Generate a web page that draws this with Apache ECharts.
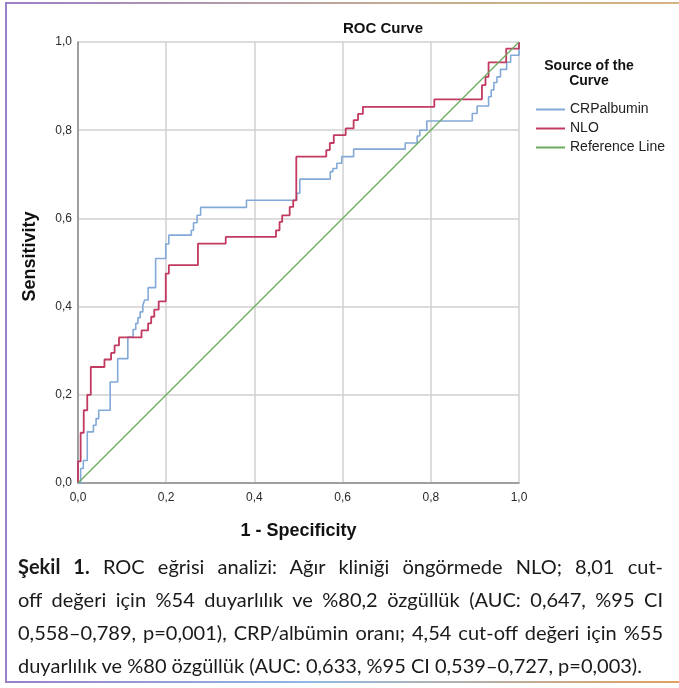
<!DOCTYPE html>
<html>
<head>
<meta charset="utf-8">
<script src="https://cdn.jsdelivr.net/npm/echarts@6/dist/echarts.min.js"></script>
<style>
  html, body { margin: 0; padding: 0; background: #fff; }
  #wrap { position: relative; width: 679px; height: 688px; overflow: hidden; }
  #chart { position: absolute; left: 0; top: 0; width: 679px; height: 545px; }
  .frame-left { position: absolute; left: 5px; top: 2px; width: 2px; height: 681px; background: #9b80c8; }
  .frame-top { position: absolute; left: 5px; top: 2px; width: 674px; height: 2px; background: linear-gradient(to right, #9b80c8, #c4ad92 60%, #d6b47e); }
  .frame-bottom { position: absolute; left: 5px; top: 681px; width: 674px; height: 2px; background: linear-gradient(to right, #9b80c8, #8fb8e2 45%, #e3a25f); }
  #caption { position: absolute; left: 18px; top: 550px; width: 645px; font-family: Lato, sans-serif; font-size: 20px; line-height: 33px; color: #1a1a1a; }
  #caption .ln { white-space: nowrap; text-align: justify; text-align-last: justify; }
  #caption .ln.last { text-align: left; text-align-last: left; }
</style>
</head>
<body>
<div id="wrap">
  <div id="chart"></div>
  <div class="frame-left"></div>
  <div class="frame-top"></div>
  <div class="frame-bottom"></div>
  <div id="caption">
    <div class="ln"><b>Şekil 1.</b> ROC eğrisi analizi: Ağır kliniği öngörmede NLO; 8,01 cut-</div>
    <div class="ln">off değeri için %54 duyarlılık ve %80,2 özgüllük (AUC: 0,647, %95 CI</div>
    <div class="ln">0,558–0,789, p=0,001), CRP/albümin oranı; 4,54 cut-off değeri için %55</div>
    <div class="ln last">duyarlılık ve %80 özgüllük (AUC: 0,633, %95 CI 0,539–0,727, p=0,003).</div>
  </div>
</div>
<script>
// ROC curve vertices [1 - specificity, sensitivity], drawn as steps
const crpAlbumin = [
  [0, 0], [0.006, 0.033], [0.012, 0.051], [0.021, 0.116], [0.035, 0.131],
  [0.041, 0.146], [0.047, 0.165], [0.073, 0.229], [0.09, 0.282], [0.113, 0.331],
  [0.125, 0.348], [0.131, 0.362], [0.136, 0.375], [0.141, 0.388], [0.147, 0.403],
  [0.151, 0.415], [0.159, 0.443], [0.176, 0.509], [0.199, 0.542], [0.206, 0.562],
  [0.257, 0.573], [0.262, 0.59], [0.27, 0.607], [0.278, 0.625], [0.382, 0.641],
  [0.496, 0.657], [0.503, 0.689], [0.572, 0.706], [0.578, 0.713], [0.587, 0.725],
  [0.598, 0.74], [0.625, 0.757], [0.742, 0.771], [0.769, 0.787], [0.775, 0.8],
  [0.791, 0.821], [0.894, 0.838], [0.905, 0.855], [0.931, 0.876], [0.937, 0.891],
  [0.943, 0.908], [0.95, 0.921], [0.958, 0.938], [0.972, 0.954], [0.981, 0.97],
  [1, 1]
];

const nlo = [
  [0, 0], [0, 0.049], [0.006, 0.114], [0.013, 0.165], [0.021, 0.2],
  [0.029, 0.263], [0.06, 0.28], [0.075, 0.295], [0.083, 0.312], [0.093, 0.33],
  [0.144, 0.346], [0.159, 0.362], [0.166, 0.377], [0.173, 0.393], [0.183, 0.412],
  [0.199, 0.475], [0.206, 0.494], [0.272, 0.543], [0.335, 0.558], [0.449, 0.573],
  [0.457, 0.592], [0.463, 0.607], [0.48, 0.626], [0.488, 0.641], [0.495, 0.74],
  [0.563, 0.755], [0.571, 0.771], [0.58, 0.789], [0.607, 0.804], [0.625, 0.823],
  [0.635, 0.837], [0.646, 0.853], [0.808, 0.87], [0.916, 0.902], [0.924, 0.921],
  [0.931, 0.954], [0.971, 0.985], [1, 1]
];

const referenceLine = [[0, 0], [1, 1]];

const FONT = 'Liberation Sans, Arial, sans-serif';
const fmt = v => v.toFixed(1).replace('.', ',');

const chart = echarts.init(document.getElementById('chart'));

const option = {
  animation: false,
  backgroundColor: '#fff',
  title: {
    text: 'ROC Curve',
    left: 343,
    top: 21,
    padding: 0,
    textStyle: { fontFamily: FONT, fontSize: 15, fontWeight: 'bold', color: '#111' }
  },
  graphic: [
    {
      type: 'text',
      x: 589,
      y: 59,
      style: {
        text: 'Source of the\nCurve',
        align: 'center',
        fontFamily: FONT,
        fontSize: 14,
        fontWeight: 'bold',
        lineHeight: 15,
        fill: '#111'
      }
    }
  ],
  legend: {
    orient: 'vertical',
    left: 536,
    top: 100,
    padding: 0,
    itemGap: 0,
    itemWidth: 29,
    itemHeight: 2,
    icon: 'rect',
    textStyle: { fontFamily: FONT, fontSize: 14, color: '#222', lineHeight: 19 },
    data: ['CRPalbumin', 'NLO', 'Reference Line']
  },
  grid: { left: 78, top: 42, width: 441, height: 441, containLabel: false },
  xAxis: {
    type: 'value',
    min: 0,
    max: 1,
    interval: 0.2,
    name: '1 - Specificity',
    nameLocation: 'middle',
    nameGap: 39,
    nameTextStyle: { fontFamily: FONT, fontSize: 18, fontWeight: 'bold', color: '#111' },
    axisLine: { lineStyle: { color: '#8a8a8a', width: 1.5 } },
    axisTick: { show: false },
    axisLabel: { margin: 9, fontFamily: FONT, fontSize: 12, color: '#2a2a2a', formatter: fmt },
    splitLine: { lineStyle: { color: '#d0d0d0', width: 1.5 } }
  },
  yAxis: {
    type: 'value',
    min: 0,
    max: 1,
    interval: 0.2,
    name: 'Sensitivity',
    nameLocation: 'middle',
    nameGap: 39,
    nameRotate: 90,
    nameTextStyle: { fontFamily: FONT, fontSize: 18, fontWeight: 'bold', color: '#111', padding: [0, 0, 0, 12] },
    axisLine: { lineStyle: { color: '#8a8a8a', width: 1.5 } },
    axisTick: { show: false },
    axisLabel: { margin: 6, fontFamily: FONT, fontSize: 12, color: '#2a2a2a', formatter: fmt },
    splitLine: { lineStyle: { color: '#d0d0d0', width: 1.5 } }
  },
  series: [
    {
      name: 'CRPalbumin',
      type: 'line',
      step: 'end',
      showSymbol: false,
      data: crpAlbumin,
      color: '#82a9d8',
      lineStyle: { width: 1.6 }
    },
    {
      name: 'NLO',
      type: 'line',
      step: 'end',
      showSymbol: false,
      data: nlo,
      color: '#c23a60',
      lineStyle: { width: 1.8 }
    },
    {
      name: 'Reference Line',
      type: 'line',
      showSymbol: false,
      data: referenceLine,
      color: '#6aab5e',
      lineStyle: { width: 1.3 }
    }
  ]
};

chart.setOption(option);
</script>
</body>
</html>
